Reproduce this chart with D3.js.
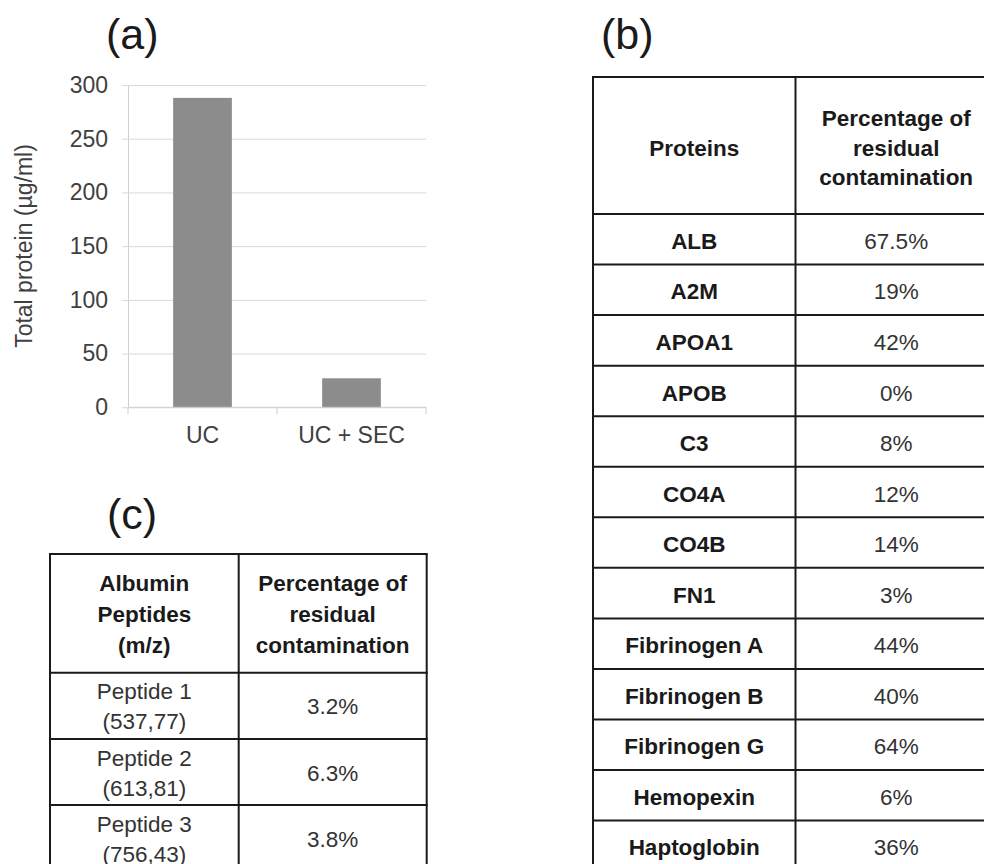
<!DOCTYPE html>
<html>
<head>
<meta charset="utf-8">
<script src="https://cdn.jsdelivr.net/npm/d3@7"></script>
<style>
  html, body { margin: 0; padding: 0; background: #fff; }
  svg { display: block; font-family: "Liberation Sans", Arial, Helvetica, sans-serif; }
</style>
</head>
<body>
<svg id="fig" width="984" height="864"></svg>
<script>
// (a) total protein per isolation method
const methods = ["UC", "UC + SEC"];
const totalProtein = [288, 27];
const proteinTicks = [0, 50, 100, 150, 200, 250, 300];

// (b) residual contamination per plasma protein
const proteins = ["ALB", "A2M", "APOA1", "APOB", "C3", "CO4A", "CO4B", "FN1",
  "Fibrinogen A", "Fibrinogen B", "Fibrinogen G", "Hemopexin", "Haptoglobin"];
const proteinResidual = [67.5, 19, 42, 0, 8, 12, 14, 3, 44, 40, 64, 6, 36];

// (c) residual contamination per albumin peptide
const peptides = ["Peptide 1", "Peptide 2", "Peptide 3"];
const peptideMz = ["537,77", "613,81", "756,43"];
const peptideResidual = [3.2, 6.3, 3.8];

const svg = d3.select("#fig");
const ink = "#1a1a1a";
const grey = "#404040";

// panel letters
const letters = [["(a)", 106, 49], ["(b)", 601, 49], ["(c)", 107, 529]];
svg.selectAll("text.letter").data(letters).join("text")
  .attr("class", "letter")
  .attr("x", d => d[1])
  .attr("y", d => d[2])
  .attr("font-size", 43)
  .attr("fill", ink)
  .text(d => d[0]);

// ---------- (a) bar chart ----------
const plot = { left: 128, right: 426, top: 85, bottom: 407.3 };
const x = d3.scaleBand().domain(methods).range([plot.left, plot.right])
  .paddingInner(0.606).paddingOuter(0.303);
const y = d3.scaleLinear().domain([0, 300]).range([plot.bottom, plot.top]);

const gA = svg.append("g");

// horizontal gridlines and value ticks
gA.append("g")
  .attr("transform", `translate(${plot.left},0)`)
  .call(d3.axisLeft(y).tickValues(proteinTicks).tickSize(-(plot.right - plot.left)).tickSizeOuter(0).tickPadding(20))
  .call(g => g.select(".domain").attr("stroke", "#d0d0d0"))
  .call(g => g.selectAll(".tick line").attr("stroke", "#d9d9d9").attr("x1", -6))
  .call(g => g.selectAll(".tick text")
    .attr("font-size", 23).attr("fill", grey)
    .attr("font-family", "'Liberation Sans', Arial, sans-serif"));

// bars
gA.selectAll("rect.bar").data(methods).join("rect")
  .attr("class", "bar")
  .attr("x", d => x(d))
  .attr("width", x.bandwidth())
  .attr("y", (d, i) => y(totalProtein[i]))
  .attr("height", (d, i) => y(0) - y(totalProtein[i]))
  .attr("fill", "#8c8c8c");

// category axis with dividers between categories
const xAxis = gA.append("g").attr("transform", `translate(0,${plot.bottom})`);
xAxis.append("line")
  .attr("x1", plot.left).attr("x2", plot.right)
  .attr("stroke", "#cfcfcf").attr("stroke-width", 1);
const dividers = d3.range(methods.length + 1).map(i => plot.left + i * (plot.right - plot.left) / methods.length);
xAxis.selectAll("line.div").data(dividers).join("line")
  .attr("class", "div")
  .attr("x1", d => d).attr("x2", d => d)
  .attr("y1", 0).attr("y2", 7)
  .attr("stroke", "#cfcfcf");
xAxis.selectAll("text").data(methods).join("text")
  .attr("x", d => x(d) + x.bandwidth() / 2)
  .attr("y", 36)
  .attr("text-anchor", "middle")
  .attr("font-size", 23)
  .attr("fill", grey)
  .text(d => d);

// y-axis title
svg.append("text")
  .attr("transform", "translate(32,246) rotate(-90)")
  .attr("text-anchor", "middle")
  .attr("font-size", 23)
  .attr("fill", grey)
  .text("Total protein (µg/ml)");

// ---------- table helper ----------
function drawTable(g, cfg) {
  const rowY = d3.scaleBand().domain(d3.range(cfg.rows.length))
    .range([cfg.headerBottom, cfg.headerBottom + cfg.rowH * cfg.rows.length]);
  const colX = [cfg.left, cfg.mid, cfg.right];
  const bottom = cfg.headerBottom + cfg.rowH * cfg.rows.length;
  const stroke = l => l.attr("stroke", ink).attr("stroke-width", 2);

  // horizontal rules
  const hy = [cfg.top, cfg.headerBottom].concat(cfg.rows.map((r, i) => rowY(i) + cfg.rowH));
  g.selectAll("line.h").data(hy).join("line").attr("class", "h")
    .attr("x1", cfg.left - 1).attr("x2", cfg.right + 1)
    .attr("y1", d => d).attr("y2", d => d).call(stroke);
  // vertical rules
  g.selectAll("line.v").data(colX).join("line").attr("class", "v")
    .attr("x1", d => d).attr("x2", d => d)
    .attr("y1", cfg.top).attr("y2", bottom).call(stroke);

  const c1 = (cfg.left + cfg.mid) / 2, c2 = (cfg.mid + cfg.right) / 2;

  // header cells
  const header = (lines, cx, ys) => lines.forEach((t, i) =>
    g.append("text").attr("x", cx).attr("y", ys[i]).attr("dy", "0.36em")
      .attr("text-anchor", "middle").attr("font-size", cfg.fs).attr("font-weight", "bold")
      .attr("fill", ink).text(t));
  header(cfg.head1, c1, cfg.head1Y);
  header(cfg.head2, c2, cfg.head2Y);

  // body cells
  cfg.rows.forEach((r, i) => {
    const cy = rowY(i) + cfg.rowH / 2;
    r.label.forEach((t, k) => {
      g.append("text").attr("x", c1)
        .attr("y", cy + (k - (r.label.length - 1) / 2) * cfg.lineH + cfg.shift)
        .attr("dy", "0.36em").attr("text-anchor", "middle")
        .attr("font-size", cfg.fs).attr("font-weight", cfg.labelWeight)
        .attr("fill", cfg.labelWeight === "bold" ? ink : "#333").text(t);
    });
    g.append("text").attr("x", c2).attr("y", cy + cfg.shift).attr("dy", "0.36em")
      .attr("text-anchor", "middle").attr("font-size", cfg.fs)
      .attr("fill", "#333").text(r.value);
  });
}

// ---------- (b) protein table ----------
drawTable(svg.append("g"), {
  left: 593, mid: 795.5, right: 997, top: 77, headerBottom: 214, rowH: 50.55,
  fs: 22.5, lineH: 30, shift: 1.5, labelWeight: "bold",
  head1: ["Proteins"], head1Y: [148],
  head2: ["Percentage of", "residual", "contamination"], head2Y: [118, 148, 177],
  rows: proteins.map((p, i) => ({ label: [p], value: proteinResidual[i] + "%" }))
});

// ---------- (c) albumin peptide table ----------
drawTable(svg.append("g"), {
  left: 50, mid: 238.7, right: 426.7, top: 554, headerBottom: 672.7, rowH: 66.2,
  fs: 22.5, lineH: 30, shift: 0.5, labelWeight: "normal",
  head1: ["Albumin", "Peptides", "(m/z)"], head1Y: [583, 614, 645],
  head2: ["Percentage of", "residual", "contamination"], head2Y: [583, 614, 645],
  rows: peptides.map((p, i) => ({ label: [p, "(" + peptideMz[i] + ")"], value: peptideResidual[i].toFixed(1) + "%" }))
});
</script>
</body>
</html>
